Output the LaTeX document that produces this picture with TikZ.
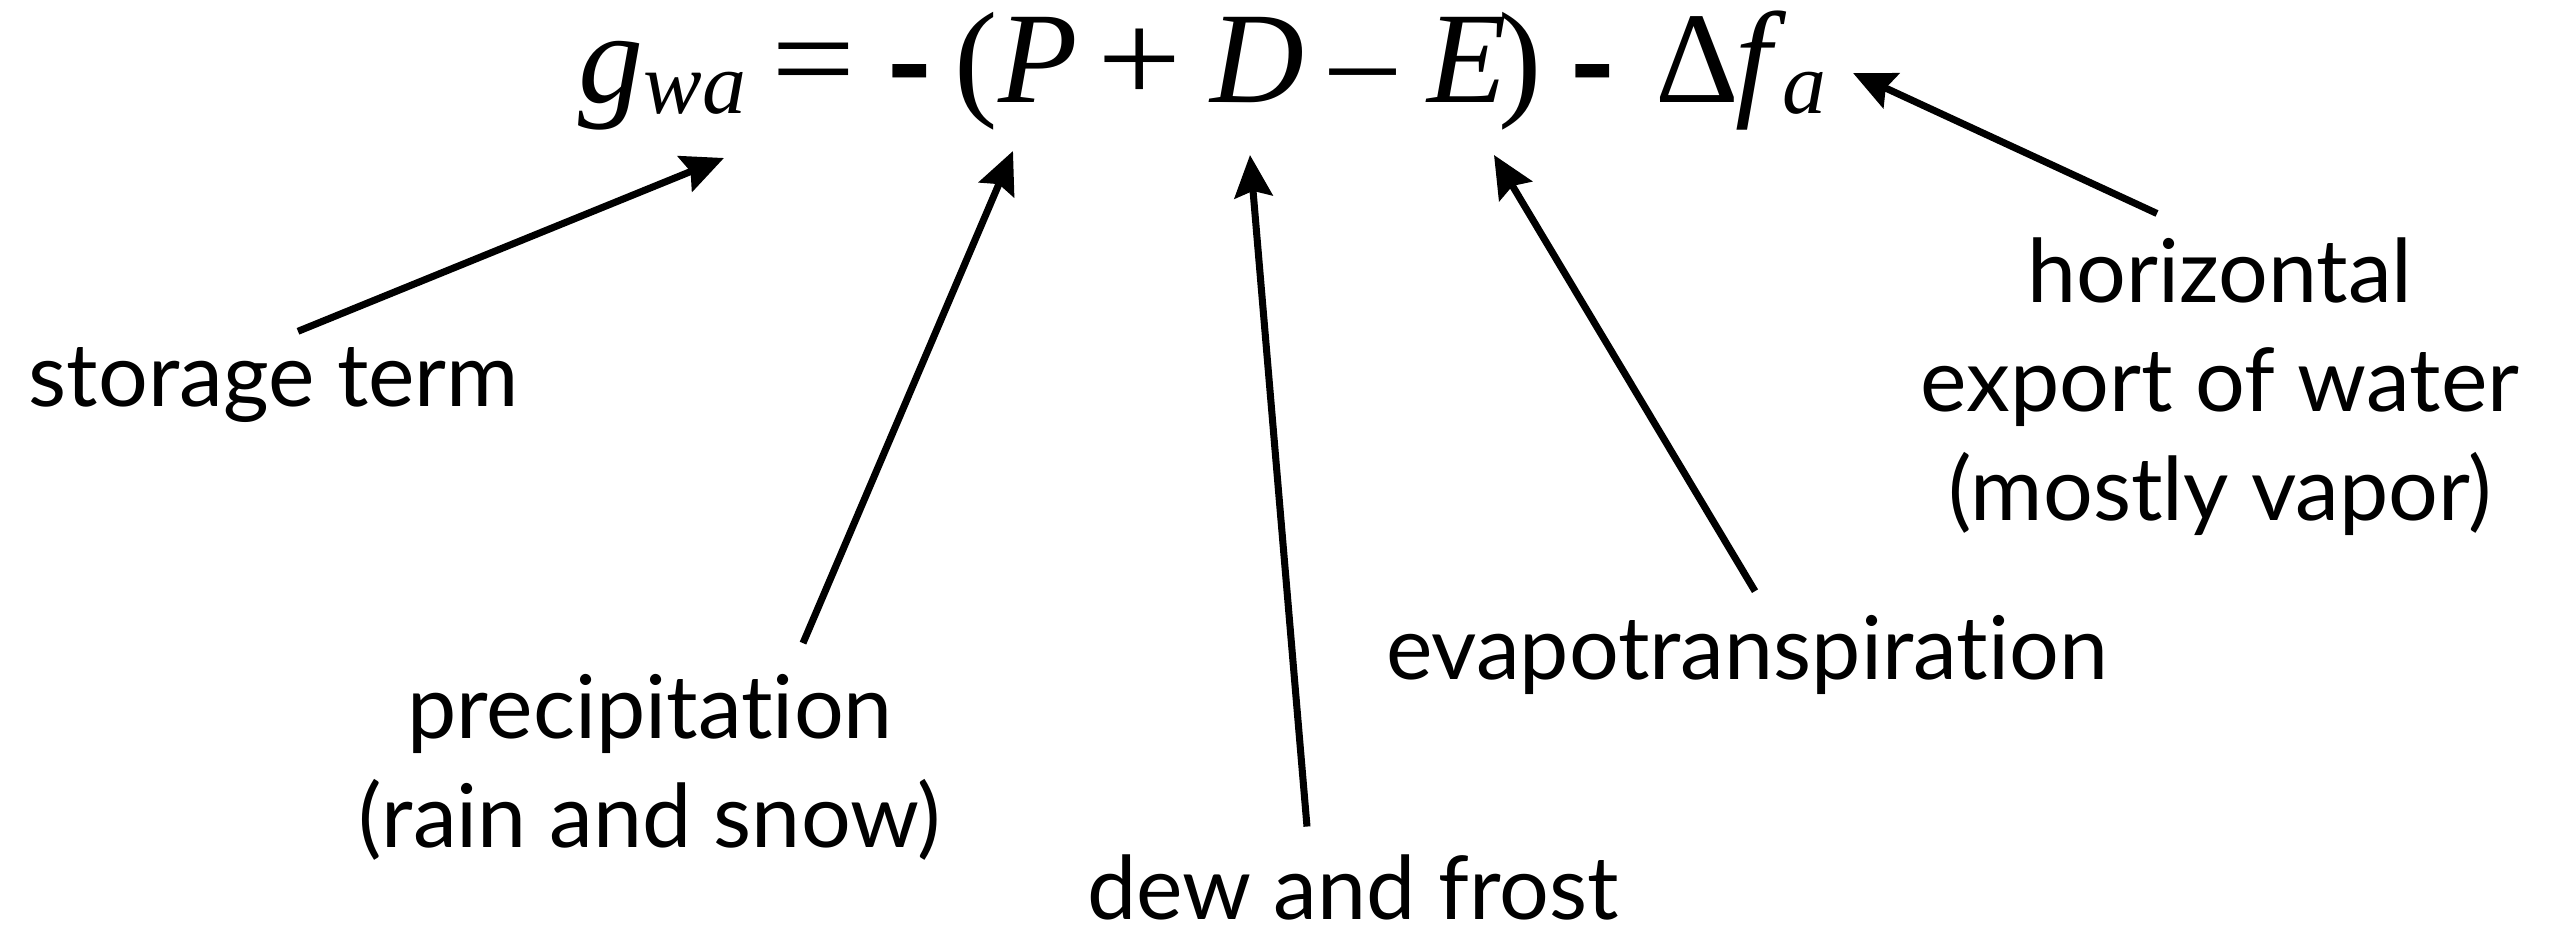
\documentclass[tikz,border=0pt]{standalone}
\usepackage{fontspec}
\usepackage{graphicx}
\newfontfamily\lblfont[Ligatures=NoCommon]{Lato}
\newfontfamily\eqfont{Liberation Serif}
\usetikzlibrary{arrows.meta}
% subscript of the balance terms
\newcommand\eqsub[1]{\raisebox{-0.08em}{\fontsize{25}{25}\selectfont\itshape #1}}
% operators a bit wider than the font's
\newcommand\wideop[1]{\scalebox{1.15}[1]{#1}}

\begin{document}
\begin{tikzpicture}[x=0.01cm, y=-0.01cm,
    eqsym/.style={font=\eqfont\fontsize{37}{37}\selectfont, anchor=base, inner sep=0pt},
    eqdash/.style={font=\lblfont\bfseries\fontsize{37}{37}\selectfont, anchor=base, inner sep=0pt},
    termlbl/.style={font=\lblfont\fontsize{25}{31}\selectfont, align=center, anchor=base, inner sep=0pt},
    pointer/.style={-{Stealth[length=0.42cm, width=0.38cm, inset=0.06cm]}, line width=2pt}
  ]
  \useasboundingbox (0,0) rectangle (2553,934);
  % the water balance, piece by piece
  \node[eqsym, anchor=base west] (gwa) at (578,103) {\textit{g}\eqsub{wa}};
  \node[eqsym] (eqsign) at (814,103) {\wideop{=}};
  \node[eqdash] (dash1) at (910,111) {-};
  \node[eqsym] (lpar) at (976,103) {(};
  \node[eqsym] (P) at (1038,103) {\textit{P}};
  \node[eqsym] (plus) at (1140,103) {\wideop{+}};
  \node[eqsym] (D) at (1257,103) {\textit{D}};
  \node[eqsym] (minus) at (1363,103) {–};
  \node[eqsym] (E) at (1467,103) {\textit{E}};
  \node[eqsym] (rpar) at (1520,103) {)};
  \node[eqdash] (dash2) at (1593,111) {-};
  \node[eqsym, anchor=base west] (Df) at (1655,103) {Δ\kern-0.03em\textit{f}\kern-0.03em\eqsub{a}};
  % where each pointer ends
  \coordinate (tipS) at (724,158);
  \coordinate (tipP) at (1013,151);
  \coordinate (tipD) at (1250,155);
  \coordinate (tipE) at (1494,155);
  \coordinate (tipF) at (1853,73);
  % term labels
  \node[termlbl] (storage) at (274,407) {storage term};
  \node[termlbl] (prec) at (650,848) {precipitation\\(rain and snow)};
  \node[termlbl] (dew) at (1353,920) {dew and frost};
  \node[termlbl] (evap) at (1747,680) {evapotranspiration};
  \node[termlbl] (export) at (2220,521) {horizontal\\export of water\\(mostly vapor)};

  \draw[pointer] ([shift={(24,-16)}]storage.north) -- (tipS);
  \draw[pointer] ([shift={(153,-31)}]prec.north) -- (tipP);
  \draw[pointer] ([shift={(-46,-28)}]dew.north) -- (tipD);
  \draw[pointer] ([shift={(8,-24)}]evap.north) -- (tipE);
  \draw[pointer] ([shift={(-63,-24)}]export.north) -- (tipF);
\end{tikzpicture}
\end{document}
